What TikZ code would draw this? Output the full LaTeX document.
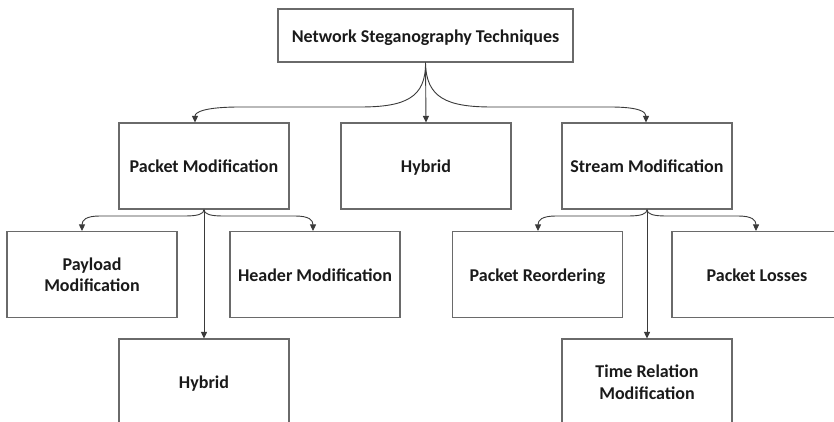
\documentclass[tikz,border=0pt]{standalone}
\usepackage{fontspec}
\setmainfont{Carlito}
\usetikzlibrary{arrows.meta}
\definecolor{boxgray}{HTML}{6A6A6A}
\definecolor{linegray}{HTML}{3A3A3A}
\definecolor{textblack}{HTML}{1A1A1A}
\begin{document}
\begin{tikzpicture}[x=1pt,y=-1pt,
  box/.style={draw=boxgray, line width=1.1pt, fill=white, minimum width=170pt,
    minimum height=86pt, inner sep=0pt, align=center,
    font=\fontsize{18}{21.5}\selectfont\bfseries, text=textblack},
  oneline/.style={box,
    execute at begin node={\rule{0pt}{17.5pt}},
    execute at end node={\rule[-4.4pt]{0pt}{4.4pt}}},
  link/.style={draw=linegray, line width=0.9pt,
    -{Triangle[length=6.5pt,width=6pt]}}]
\clip (0,0) rectangle (834,422);
\fill[white] (0,0) rectangle (834,422);

% root
\node[oneline, minimum width=295pt, minimum height=53pt] (root) at (425.5,35.5)
  {Network Steganography Techniques};

% second level
\node[oneline] (pm)  at (204,166) {Packet Modification};
\node[oneline] (hy)  at (426,166) {Hybrid};
\node[oneline] (sm)  at (647,166) {Stream Modification};

% third level
\node[box]     (pay) at (92,274.5)  {Payload\\Modification};
\node[oneline] (hdr) at (315,274.5) {Header Modification};
\node[oneline] (hy2) at (204,382)   {Hybrid};
\node[oneline] (reo) at (537.5,274.5) {Packet Reordering};
\node[oneline] (los) at (757,274.5) {Packet Losses};
\node[box]     (trm) at (647,382)   {Time Relation\\Modification};

% root branches
\draw[link] (root.south) .. controls (426,98) and (405,107) .. (360,107)
  -- (240,107) .. controls (205,107) and (195,112) .. ([xshift=-9pt]pm.north);
\draw[link] (root.south) -- (hy.north);
\draw[link] (root.south) .. controls (426,98) and (447,107) .. (492,107)
  -- (610,107) .. controls (640,107) and (646,112) .. ([xshift=-1pt]sm.north);

% packet modification branches
\draw[link] (pm.south) .. controls (204,214) and (198,216) .. (185,216)
  -- (100,216) .. controls (86,216) and (82,220) .. ([xshift=-10pt]pay.north);
\draw[link] (pm.south) .. controls (204,214) and (210,216) .. (223,216)
  -- (295,216) .. controls (309,216) and (313,220) .. ([xshift=-2pt]hdr.north);
\draw[link] (pm.south) -- (hy2.north);

% stream modification branches
\draw[link] (sm.south) .. controls (647,214) and (641,216) .. (628,216)
  -- (556,216) .. controls (542,216) and (538,220) .. ([xshift=0.5pt]reo.north);
\draw[link] (sm.south) .. controls (647,214) and (653,216) .. (666,216)
  -- (738,216) .. controls (752,216) and (756,220) .. ([xshift=-1pt]los.north);
\draw[link] (sm.south) -- (trm.north);
\end{tikzpicture}
\end{document}
